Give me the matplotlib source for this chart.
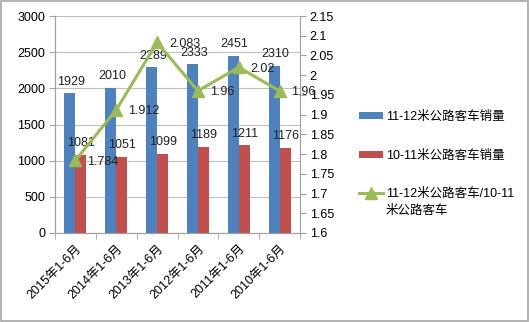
import matplotlib
matplotlib.use("Agg")
import matplotlib.pyplot as plt
import numpy as np
from matplotlib.patches import Rectangle

plt.rcParams['font.family'] = ['Liberation Sans', 'Noto Sans CJK SC']

categories = ['2015年1-6月', '2014年1-6月', '2013年1-6月', '2012年1-6月', '2011年1-6月', '2010年1-6月']
sales_11_12 = [1929, 2010, 2289, 2333, 2451, 2310]
sales_10_11 = [1081, 1051, 1099, 1189, 1211, 1176]
ratio = [1.784, 1.912, 2.083, 1.96, 2.02, 1.96]
ratio_labels = ['1.784', '1.912', '2.083', '1.96', '2.02', '1.96']

name_blue = '11-12米公路客车销量'
name_red = '10-11米公路客车销量'
name_line_1 = '11-12米公路客车/10-11'
name_line_2 = '米公路客车'

blue = '#4F81BD'
red = '#C0504D'
green = '#9BBB59'
fs = 9

fig = plt.figure(figsize=(5.30, 3.22), dpi=100)
ax = fig.add_axes([0.1038, 0.2764, 0.4623, 0.6739])
ax2 = ax.twinx()

x = np.arange(len(categories))
w = 0.27
b1 = ax.bar(x - w / 2, sales_11_12, w, color=blue, label=name_blue, zorder=3)
b2 = ax.bar(x + w / 2, sales_10_11, w, color=red, label=name_red, zorder=3)

for xi, v in zip(x - w / 2, sales_11_12):
    ax.annotate(str(v), (xi, v), xytext=(1, 4), textcoords='offset points',
                ha='center', va='bottom', fontsize=fs, color='#222222', zorder=5)
for xi, v in zip(x + w / 2, sales_10_11):
    ax.annotate(str(v), (xi, v), xytext=(0, 4), textcoords='offset points',
                ha='center', va='bottom', fontsize=fs, color='#222222', zorder=5)

ln, = ax2.plot(x, ratio, color=green, lw=2.2, marker='^', markersize=8,
               label=name_line_1, zorder=4)
for xi, v, t in zip(x, ratio, ratio_labels):
    ax2.annotate(t, (xi, v), xytext=(8.5, -1), textcoords='offset points',
                 ha='left', va='center', fontsize=fs, color='#222222')

ax.set_xlim(-0.5, len(categories) - 0.5)
ax.set_ylim(0, 3000)
ax.set_yticks(np.arange(0, 3001, 500))
rt = np.round(np.arange(1.6, 2.151, 0.05), 2)
ax2.set_ylim(1.6, 2.15)
ax2.set_yticks(rt)
ax2.set_yticklabels([f'{v:g}' for v in rt])

ax.yaxis.grid(True, color='#BFBFBF', lw=0.8, zorder=0)
ax.set_axisbelow(True)

ax.set_xticks(x)
ax.set_xticklabels(categories, rotation=45, ha='right', rotation_mode='anchor',
                   fontsize=fs)
ax.tick_params(axis='x', length=0, pad=7)
ax.set_xticks(np.arange(-0.5, len(categories), 1), minor=True)
ax.tick_params(axis='x', which='minor', length=4, color='#A0A0A0', direction='out')
ax.tick_params(axis='y', length=4, color='#A0A0A0', labelsize=fs, pad=3)
ax2.tick_params(axis='y', length=4, color='#A0A0A0', labelsize=fs, pad=3)

for a in (ax, ax2):
    a.spines['top'].set_visible(False)
    a.spines['left'].set_color('#A0A0A0')
    a.spines['right'].set_color('#A0A0A0')
    a.spines['bottom'].set_color('#A0A0A0')
ax.spines['right'].set_visible(False)

leg = fig.legend(handles=[b1, b2, ln], loc='upper left', bbox_to_anchor=(0.668, 0.67),
                 frameon=False, fontsize=fs, handlelength=1.9, handleheight=0.5,
                 labelspacing=2.1, handletextpad=0.25, borderaxespad=0)

fig.canvas.draw()
tb = leg.get_texts()[2].get_window_extent()
fig.text(tb.x0 / fig.bbox.width, (tb.y0 - 17) / fig.bbox.height, name_line_2,
         fontsize=fs, ha='left', va='bottom')

fig.patches.append(Rectangle((0.002, 0.004), 0.994, 0.992, transform=fig.transFigure,
                             fill=False, edgecolor='#A6A6A6', lw=1.2))

fig.savefig('out.png', dpi=100)
